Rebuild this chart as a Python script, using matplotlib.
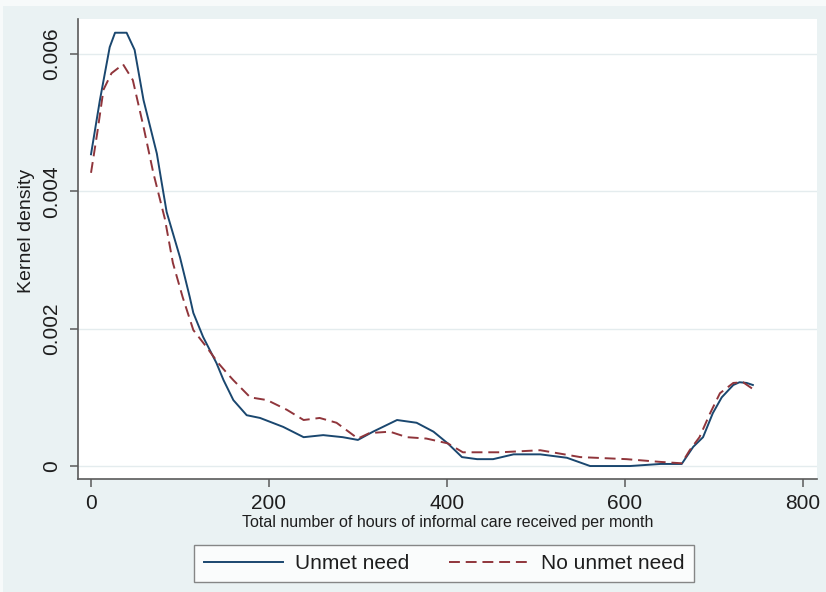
import matplotlib
matplotlib.use("Agg")
import matplotlib.pyplot as plt
from matplotlib.patches import Rectangle

plt.rcParams['font.family'] = ['Liberation Sans', 'DejaVu Sans']

# ---- data ----
unmet_x = [0, 10, 21, 27, 40, 49, 59, 74, 79, 85, 100, 111, 115, 126, 141, 149, 160, 175,
           190, 216, 239, 261, 283, 300, 317, 344, 366, 385, 401, 417, 434, 452, 475, 505,
           535, 561, 606, 640, 664, 677, 688, 699, 709, 722, 729, 737, 744]
unmet_y = [0.00454, 0.00533, 0.00610, 0.00631, 0.00631, 0.00606, 0.00533, 0.00455, 0.00416,
           0.00370, 0.00304, 0.00246, 0.00223, 0.00188, 0.00150, 0.00125, 0.00096, 0.00074,
           0.00070, 0.00057, 0.00042, 0.00045, 0.00042, 0.00038, 0.00050, 0.00067, 0.00063,
           0.00050, 0.00033, 0.00013, 0.00010, 0.00010, 0.00017, 0.00017, 0.00012, 0.00000,
           0.00000, 0.00003, 0.00003, 0.00028, 0.00042, 0.00077, 0.00100, 0.00118, 0.00122,
           0.00121, 0.00118]

no_unmet_x = [0, 7, 14, 23, 36, 47, 59, 70, 83, 92, 103, 115, 130, 143, 153, 160, 179, 198,
              220, 239, 257, 276, 300, 313, 336, 355, 377, 401, 418, 460, 505, 550, 602, 640,
              664, 673, 684, 696, 707, 722, 733, 743]
no_unmet_y = [0.00427, 0.00485, 0.00548, 0.00572, 0.00585, 0.00562, 0.00494, 0.00427, 0.00360,
              0.00296, 0.00246, 0.00198, 0.00173, 0.00150, 0.00135, 0.00125, 0.00100, 0.00096,
              0.00082, 0.00067, 0.00070, 0.00063, 0.00040, 0.00048, 0.00050, 0.00042, 0.00040,
              0.00033, 0.00020, 0.00020, 0.00023, 0.00013, 0.00010, 0.00006, 0.00004, 0.00023,
              0.00042, 0.00077, 0.00106, 0.00121, 0.00122, 0.00113]

x_ticks = [0, 200, 400, 600, 800]
y_ticks = [0, 0.002, 0.004, 0.006]
y_ticklabels = ['0', '0.002', '0.004', '0.006']
series_names = ['Unmet need', 'No unmet need']

# ---- style ----
BG = '#EAF2F3'
NAVY = '#1A476F'
MAROON = '#90353B'
AXC = '#5A5A5A'
TXT = '#1E1E1E'

fig = plt.figure(figsize=(8.26, 5.92), dpi=100)
fig.patch.set_facecolor('#F7FAFA')
fig.patches.append(Rectangle((3 / 826, 0), 1, (592 - 6) / 592, transform=fig.transFigure,
                             facecolor=BG, edgecolor='none', zorder=-10))

ax = fig.add_axes([77.5 / 826, 1 - 479 / 592, (817 - 77.5) / 826, (479 - 19) / 592])
ax.set_facecolor('white')

ax.plot(unmet_x, unmet_y, color=NAVY, lw=1.4, label=series_names[0], zorder=3)
ax.plot(no_unmet_x, no_unmet_y, color=MAROON, lw=1.4, linestyle=(0, (5.6, 3.0)),
        label=series_names[1], zorder=3)

ax.set_xlim(-15.2, 816.1)
ax.set_ylim(-0.000189, 0.00651)

ax.set_xticks(x_ticks)
ax.set_xticklabels([str(t) for t in x_ticks])
ax.set_yticks(y_ticks)
ax.set_yticklabels(y_ticklabels, rotation=90, va='center')

ax.grid(axis='y', color='#E4ECEE', lw=1.0, zorder=0)
ax.set_axisbelow(True)

for s in ['top', 'right']:
    ax.spines[s].set_visible(False)
for s in ['left', 'bottom']:
    ax.spines[s].set_color(AXC)
    ax.spines[s].set_linewidth(1.2)

ax.tick_params(axis='both', colors=AXC, length=6, width=1.1, labelsize=15, labelcolor=TXT)
ax.tick_params(axis='x', pad=5)
ax.tick_params(axis='y', pad=6)

ax.set_xlabel('Total number of hours of informal care received per month',
              fontsize=11.5, color=TXT, labelpad=1)
ax.set_ylabel('Kernel density', fontsize=14, color=TXT)
ax.yaxis.set_label_coords(-0.058, 0.539)

leg = fig.legend(loc='center', bbox_to_anchor=(444 / 826, 1 - 563.5 / 592), ncol=2,
                 fontsize=15, frameon=True, fancybox=False, handlelength=3.8,
                 handletextpad=0.6, columnspacing=1.9, borderpad=0.45)
leg.get_frame().set_edgecolor('#6A6A6A')
leg.get_frame().set_linewidth(1.0)
leg.get_frame().set_facecolor('white')
for t in leg.get_texts():
    t.set_color(TXT)

fig.savefig('out.png', dpi=100, facecolor=fig.get_facecolor())
